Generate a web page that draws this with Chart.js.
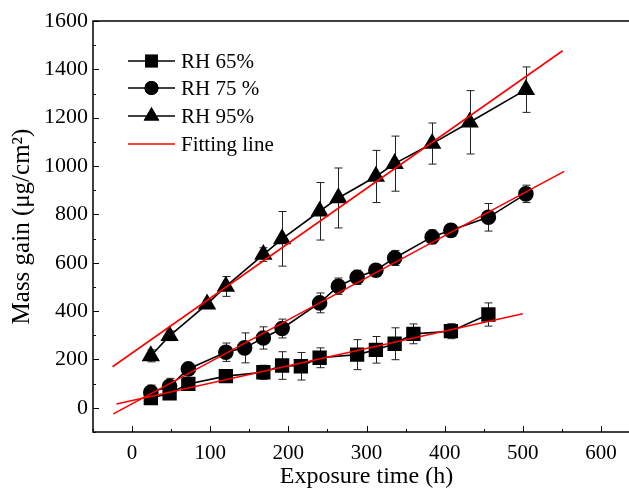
<!DOCTYPE html>
<html>
<head>
<meta charset="utf-8">
<script src="https://cdn.jsdelivr.net/npm/chart.js@4.4.1/dist/chart.umd.min.js"></script>
<style>
  html, body { margin: 0; padding: 0; background: #fff; overflow: hidden; }
  #wrap { width: 660px; height: 491px; }
</style>
</head>
<body>
<div id="wrap"><canvas id="chart" width="660" height="491"></canvas></div>
<script>
// exposure time (h) and mass gain (ug/cm2)
var hours65 = [24, 48, 72, 120, 168, 192, 216, 240, 288, 312, 336, 360, 408, 456];
var mass65  = [40, 60, 99, 131, 147, 175, 172, 207, 220, 240, 265, 306, 317, 386];
var err65   = [15, 18, 10, 10, 29, 57, 57, 41, 62, 55, 66, 41, 31, 48];

var hours75 = [24, 48, 72, 120, 144, 168, 192, 240, 264, 288, 312, 336, 384, 408, 456, 504];
var mass75  = [64, 89, 161, 230, 248, 289, 328, 434, 503, 540, 569, 620, 707, 734, 788, 885];
var err75   = [30, 33, 10, 38, 62, 46, 39, 41, 34, 29, 24, 31, 28, 25, 57, 36];

var hours95 = [24, 48, 96, 120, 168, 192, 240, 264, 312, 336, 384, 432, 504];
var mass95  = [215, 298, 429, 502, 634, 699, 813, 868, 957, 1010, 1093, 1181, 1316];
var err95   = [25, 20, 18, 41, 28, 113, 119, 124, 108, 114, 85, 131, 94];

// fitting lines (end points)
var fit65X = [-20, 500], fit65Y = [16, 389];
var fit75X = [-24, 553], fit75Y = [-25, 978];
var fit95X = [-25, 551], fit95Y = [170, 1477];

var xTicks = [0, 100, 200, 300, 400, 500, 600];
var yTicks = [0, 200, 400, 600, 800, 1000, 1200, 1400, 1600];

var legendLabels = ['RH 65%', 'RH 75 %', 'RH 95%', 'Fitting line'];

var FONT = '"Liberation Serif", "Times New Roman", serif';

function pts(xs, ys) {
    return xs.map(function (x, i) { return {x: x, y: ys[i]}; });
}

function series(label, xs, ys, errs, style, r) {
    return {
        label: label,
        data: pts(xs, ys),
        errs: errs,
        showLine: true,
        borderColor: '#000',
        backgroundColor: '#000',
        borderWidth: 1.6,
        pointStyle: style,
        pointRadius: r,
        pointHoverRadius: r,
        order: 1
    };
}

function fit(xs, ys) {
    return {
        label: 'Fitting line',
        data: pts(xs, ys),
        showLine: true,
        borderColor: '#ff0000',
        borderWidth: 1.6,
        pointRadius: 0,
        order: 0
    };
}

// error bars, behind the markers
var errorBars = {
    id: 'errorBars',
    beforeDatasetsDraw: function (chart) {
        var ctx = chart.ctx, xs = chart.scales.x, ys = chart.scales.y;
        ctx.save();
        ctx.strokeStyle = '#222';
        ctx.lineWidth = 1;
        chart.data.datasets.forEach(function (ds) {
            if (!ds.errs) return;
            ds.data.forEach(function (p, i) {
                var px = Math.round(xs.getPixelForValue(p.x)) + 0.5;
                var top = ys.getPixelForValue(p.y + ds.errs[i]);
                var bot = ys.getPixelForValue(p.y - ds.errs[i]);
                ctx.beginPath();
                ctx.moveTo(px, top); ctx.lineTo(px, bot);
                ctx.moveTo(px - 4, top); ctx.lineTo(px + 4, top);
                ctx.moveTo(px - 4, bot); ctx.lineTo(px + 4, bot);
                ctx.stroke();
            });
        });
        ctx.restore();
    }
};

// frame, inward ticks and the legend
var frame = {
    id: 'frame',
    afterDraw: function (chart) {
        var ctx = chart.ctx, a = chart.chartArea;
        var xs = chart.scales.x, ys = chart.scales.y;
        ctx.save();
        ctx.strokeStyle = '#000';
        ctx.lineWidth = 1.5;
        ctx.strokeRect(a.left, a.top, a.right - a.left, a.bottom - a.top);

        ctx.lineWidth = 1;
        ctx.beginPath();
        for (var v = -50; v <= 650; v += 50) {
            var px = Math.round(xs.getPixelForValue(v)) + 0.5;
            var len = (v % 100 === 0) ? 6 : 3;
            ctx.moveTo(px, a.bottom); ctx.lineTo(px, a.bottom - len);
        }
        for (var w = -100; w <= 1600; w += 100) {
            var py = Math.round(ys.getPixelForValue(w)) + 0.5;
            var len2 = (w % 200 === 0) ? 6 : 3;
            ctx.moveTo(a.left, py); ctx.lineTo(a.left + len2, py);
        }
        ctx.stroke();

        // legend
        var styles = ['rect', 'circle', 'triangle', null];
        var radii = [9, 7, 9, 0];
        var x0 = 128, x1 = 175, ty = [61, 88, 116, 144];
        ctx.font = '21px ' + FONT;
        ctx.textBaseline = 'middle';
        ctx.textAlign = 'left';
        for (var i = 0; i < 4; i++) {
            ctx.strokeStyle = styles[i] ? '#000' : '#ff0000';
            ctx.lineWidth = 1.6;
            ctx.beginPath();
            ctx.moveTo(x0, ty[i]); ctx.lineTo(x1, ty[i]);
            ctx.stroke();
            if (styles[i]) {
                ctx.fillStyle = '#000';
                Chart.helpers.drawPoint(ctx, {pointStyle: styles[i], radius: radii[i], rotation: 0, borderWidth: 0}, (x0 + x1) / 2, ty[i]);
                ctx.fill();
            }
            ctx.fillStyle = '#000';
            ctx.fillText(legendLabels[i], 181, ty[i] + 1);
        }
        ctx.restore();
    }
};

var chart = new Chart(document.getElementById('chart').getContext('2d'), {
    type: 'scatter',
    data: {
        datasets: [
            fit(fit65X, fit65Y),
            fit(fit75X, fit75Y),
            fit(fit95X, fit95Y),
            series('RH 65%', hours65, mass65, err65, 'rect', 9),
            series('RH 75 %', hours75, mass75, err75, 'circle', 7),
            series('RH 95%', hours95, mass95, err95, 'triangle', 9)
        ]
    },
    options: {
        responsive: false,
        animation: false,
        layout: {padding: {left: 0, right: 20, top: 21, bottom: 0}},
        plugins: {legend: {display: false}, tooltip: {enabled: false}},
        scales: {
            x: {
                type: 'linear',
                min: -50,
                max: 650,
                afterBuildTicks: function (s) { s.ticks = xTicks.map(function (v) { return {value: v}; }); },
                afterFit: function (s) { s.height = 59; },
                grid: {display: false, drawTicks: false},
                border: {display: false},
                ticks: {color: '#000', padding: 9, maxRotation: 0, font: {family: FONT, size: 21},
                        callback: function (v) { return String(v); }},
                title: {display: true, text: 'Exposure time (h)', color: '#000', padding: {top: 0, bottom: 0}, font: {family: FONT, size: 24}}
            },
            y: {
                type: 'linear',
                min: -100,
                max: 1600,
                afterBuildTicks: function (s) { s.ticks = yTicks.map(function (v) { return {value: v}; }); },
                afterFit: function (s) { s.width = 93; },
                grid: {display: false, drawTicks: false},
                border: {display: false},
                ticks: {color: '#000', padding: 5, font: {family: FONT, size: 22},
                        callback: function (v) { return String(v); }},
                title: {display: true, text: 'Mass gain (\u03bcg/cm\u00b2)', color: '#000', padding: {top: 7, bottom: 0}, font: {family: FONT, size: 25}}
            }
        }
    },
    plugins: [errorBars, frame]
});
</script>
</body>
</html>
